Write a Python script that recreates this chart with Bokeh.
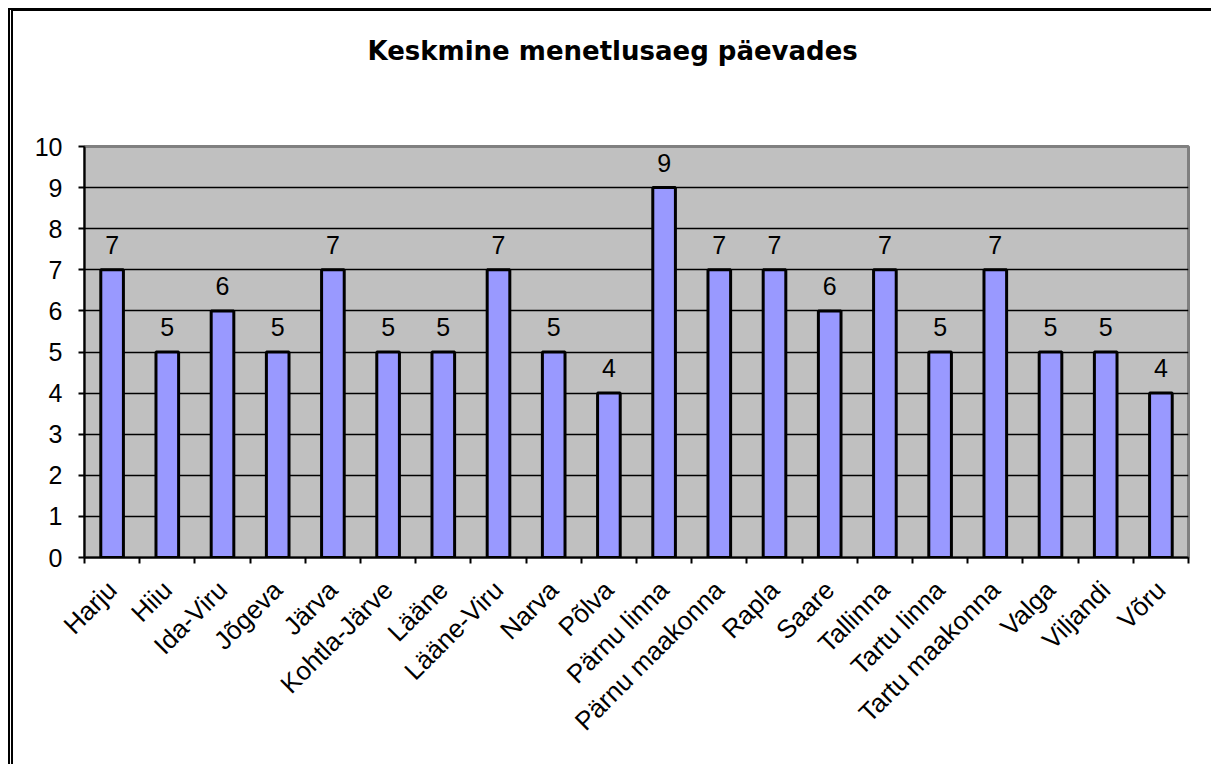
from math import pi
from bokeh.plotting import figure
from bokeh.models import (ColumnDataSource, Range1d, LinearAxis, FixedTicker, LabelSet, Title,
                          CustomJSTickFormatter)
from bokeh.core.properties import value
from bokeh.embed import file_html
from bokeh.resources import INLINE

title_text = "Keskmine menetlusaeg päevades"
categories = ["Harju", "Hiiu", "Ida-Viru", "Jõgeva", "Järva", "Kohtla-Järve", "Lääne",
              "Lääne-Viru", "Narva", "Põlva", "Pärnu linna", "Pärnu maakonna", "Rapla",
              "Saare", "Tallinna", "Tartu linna", "Tartu maakonna", "Valga", "Viljandi", "Võru"]
values = [7, 5, 6, 5, 7, 5, 5, 7, 5, 4, 9, 7, 7, 6, 7, 5, 7, 5, 5, 4]
y_ticks = [0, 1, 2, 3, 4, 5, 6, 7, 8, 9, 10]

n = len(categories)
centers = [i + 0.5 for i in range(n)]
source = ColumnDataSource(data=dict(x=centers, val=values, lbl=[str(v) for v in values]))

p = figure(x_range=Range1d(0, n), y_range=Range1d(y_ticks[0], y_ticks[-1]),
           width=1203, height=756, output_backend="svg", toolbar_location=None,
           x_axis_location=None, title_location=None,
           min_border_left=71, min_border_right=28, min_border_top=135, min_border_bottom=210)

p.styles = {"margin-left": "8px", "margin-top": "8px",
            "border-top": "3px solid black", "border-left": "5px double black"}

p.background_fill_color = "#C0C0C0"
p.border_fill_color = "white"
p.outline_line_color = "#808080"
p.outline_line_width = 3

# spacer between frame and title, then the title itself (stacked outward)
spacer = Title(text="\u00a0", text_font_size="1px", standoff=73)
p.add_layout(spacer, "above")
chart_title = Title(text=title_text, text_font="DejaVu Sans", text_font_style="bold",
                    text_font_size="26px", text_color="black", align="left",
                    offset=283, standoff=10)
p.add_layout(chart_title, "above")

# grid
p.ygrid.ticker = FixedTicker(ticks=y_ticks[1:-1])
p.ygrid.grid_line_color = "black"
p.ygrid.grid_line_width = 1.5
p.xgrid.visible = False

# y axis
ya = p.yaxis[0]
ya.ticker = FixedTicker(ticks=y_ticks)
ya.axis_line_color = "black"
ya.axis_line_width = 2
ya.major_tick_line_color = "black"
ya.major_tick_line_width = 2
ya.major_tick_out = 6
ya.major_tick_in = 0
ya.minor_tick_line_color = None
ya.major_label_standoff = 16
ya.major_label_text_font = "Liberation Sans"
ya.major_label_text_font_size = "25px"
ya.major_label_text_color = "black"

# x axes: boundary ticks + category labels
tick_axis = LinearAxis(ticker=FixedTicker(ticks=list(range(n + 1))),
                       formatter=CustomJSTickFormatter(code="return ''"),
                       major_label_text_font_size="1px", major_label_standoff=0,
                       axis_line_color="black", axis_line_width=2,
                       major_tick_line_color="black", major_tick_line_width=2,
                       major_tick_out=6, major_tick_in=0, minor_tick_line_color=None)
p.add_layout(tick_axis, "below")

cat_axis = LinearAxis(ticker=FixedTicker(ticks=centers),
                      formatter=CustomJSTickFormatter(args=dict(cats=categories),
                                                      code="return cats[Math.floor(tick)]"),
                      axis_line_color=None, major_tick_line_color=None,
                      minor_tick_line_color=None,
                      major_label_orientation=pi / 4,
                      major_label_standoff=16,
                      major_label_text_font="Liberation Sans",
                      major_label_text_font_size="26px",
                      major_label_text_color="black")
p.add_layout(cat_axis, "below")

p.vbar(x="x", top="val", width=0.41, source=source,
       fill_color="#9999FF", line_color="black", line_width=3)

labels = LabelSet(x="x", y="val", text="lbl", source=source, y_offset=16,
                  text_align="center", text_baseline="alphabetic",
                  text_font=value("Liberation Sans"), text_font_size=value("25px"),
                  text_color="black")
p.add_layout(labels)

open("out.html", "w").write(file_html(p, INLINE))
